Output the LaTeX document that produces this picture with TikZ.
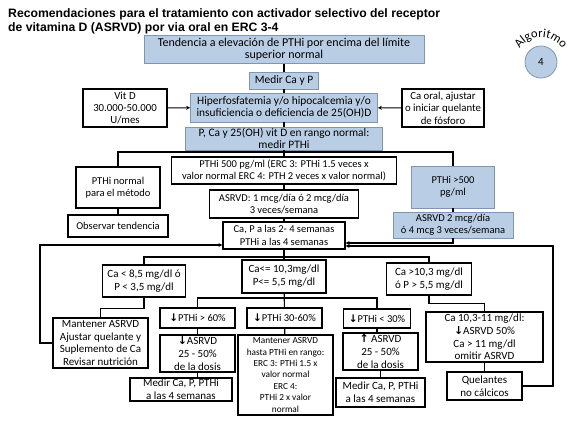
\documentclass[tikz,border=0pt]{standalone}
\usepackage{fontspec}
\setmainfont{Carlito}
\newfontfamily\titlefont{Liberation Sans}
\newfontfamily\arrowfont{DejaVu Sans}
\usetikzlibrary{arrows.meta,decorations.text}
\definecolor{boxfill}{HTML}{B9CDE5}
\definecolor{boxline}{HTML}{7F95B1}
\newcommand{\bajar}{{\arrowfont\bfseries ↓}}
\newcommand{\subir}{{\arrowfont\bfseries ↑}}

\begin{document}
\begin{tikzpicture}[
  x=1pt, y=-1pt,
  font=\fontsize{10.5}{12.3}\selectfont,
  blk/.style={draw, line width=1.1pt, align=center, inner sep=0pt, fill=white},
  azul/.style={blk, fill=boxfill, draw=boxline, line width=0.8pt},
  arriba/.style={font=\fontsize{11.4}{12.3}\selectfont},
  lado/.style={font=\fontsize{10.8}{12.3}\selectfont},
  grande/.style={font=\fontsize{11}{12.8}\selectfont},
  chico/.style={font=\fontsize{9.3}{11.4}\selectfont},
  lin/.style={line width=1.1pt},
  arr/.style={-{Stealth[length=4pt, width=4pt]}, line width=1.1pt}
]
  \useasboundingbox (0,0) rectangle (577,420);
  % Titulo y sello
  \node[anchor=north west, align=left, inner sep=0pt, font=\titlefont\bfseries\fontsize{12.2}{14}\selectfont] (titulo) at (8,8)
    {Recomendaciones para el tratamiento con activador selectivo del receptor\\de vitamina D (ASRVD) por via oral en ERC 3-4};
  \node[circle, fill=boxfill, draw=boxline, line width=0.8pt, minimum size=32pt, inner sep=0pt, font=\fontsize{11}{13}\selectfont] (sello) at (541,62) {4};
  \path[decorate, decoration={text along path, text align=center, text={|\fontsize{12.5}{14}\selectfont|Algoritmo}}]
    ([shift={(170:25pt)}]sello.center) arc[start angle=170, end angle=10, radius=25pt];

  % Fila 1: deteccion
  \node[azul, font=\fontsize{12}{12.3}\selectfont, minimum width=280pt, minimum height=27.5pt] (tend) at (284,49.5) {Tendencia a elevación de PTHi por encima del límite\\superior normal};
  \node[azul, arriba, minimum width=69pt, minimum height=17pt] (medir) at (284,80.5) {Medir Ca y P};
  \node[azul, arriba, minimum width=187pt, minimum height=29pt] (hiper) at (284,107.5) {Hiperfosfatemia y/o hipocalcemia y/o\\insuficiencia o deficiencia de 25(OH)D};
  \node[blk, lado, minimum width=84pt, minimum height=38pt] (vitd) at (125,108) {Vit D\\30.000-50.000\\U/mes};
  \node[blk, lado, minimum width=82pt, minimum height=38pt] (caoral) at (443,108) {Ca oral, ajustar\\o iniciar quelante\\de fósforo};
  \node[azul, arriba, minimum width=197pt, minimum height=23pt] (pca) at (284,138.5) {P, Ca y 25(OH) vit D en rango normal:\\medir PTHi};
  \coordinate (r1) at (284,152);

  % Fila 2: segun PTHi
  \node[blk, minimum width=84pt, minimum height=41pt] (ptnorm) at (118,187.5) {PTHi normal\\para el método};
  \node[blk, minimum width=100pt, minimum height=22pt] (observ) at (118,226) {Observar tendencia};
  \node[blk, minimum width=225pt, minimum height=27pt] (pth500) at (284,170.5) {PTHi 500 pg/ml (ERC 3: PTHi 1.5 veces x\\valor normal ERC 4: PTH 2 veces x valor normal)};
  \node[blk, minimum width=149pt, minimum height=28pt] (asrvd1) at (284,204) {ASRVD: 1 mcg/día ó 2 mcg/día\\3 veces/semana};
  \node[blk, minimum width=122pt, minimum height=27pt] (control) at (284,235.5) {Ca, P a las 2- 4 semanas\\PTHi a las 4 semanas};
  \node[azul, minimum width=83pt, minimum height=42pt] (pthalta) at (453,187) {PTHi >500\\pg/ml};
  \node[azul, minimum width=120pt, minimum height=26pt] (asrvd2) at (453,225) {ASRVD 2 mcg/día\\ó 4 mcg 3 veces/semana};
  \coordinate (r2) at (284,257);

  % Fila 3: segun Ca y P
  \node[blk, grande, minimum width=83pt, minimum height=32pt] (bajo) at (144,281) {Ca < 8,5 mg/dl ó\\P < 3,5 mg/dl};
  \node[blk, grande, minimum width=84pt, minimum height=33pt] (normal) at (284,276.5) {Ca<= 10,3mg/dl\\P<= 5,5 mg/dl};
  \node[blk, grande, minimum width=85pt, minimum height=32pt] (alto) at (429,279) {Ca >10,3 mg/dl\\ó P > 5,5 mg/dl};
  \node[blk, grande, minimum width=95pt, minimum height=50pt] (mant1) at (100.5,343) {Mantener ASRVD\\Ajustar quelante y\\Suplemento de Ca\\Revisar nutrición};
  \coordinate (r3) at (284,298);

  % Fila 4: descenso de PTHi
  \node[blk, minimum width=75pt, minimum height=20pt] (m60) at (197.5,318) {\bajar PTHi > 60\%};
  \node[blk, grande, minimum width=75pt, minimum height=37pt] (d1) at (197.5,353.5) {\bajar ASRVD\\25 - 50\%\\de la dosis};
  \node[blk, grande, minimum width=102pt, minimum height=23pt] (med1) at (181,389.5) {Medir Ca, P, PTHi\\a las 4 semanas};
  \node[blk, minimum width=75pt, minimum height=20pt] (m3060) at (284.5,318) {\bajar PTHi 30-60\%};
  \node[blk, chico, minimum width=95pt, minimum height=80pt] (mant2) at (285.5,375) {Mantener ASRVD\\hasta PTHi en rango:\\ERC 3: PTHi 1.5 x\\valor normal\\ERC 4:\\PTHi 2 x valor\\normal};
  \node[blk, minimum width=67pt, minimum height=19pt] (m30) at (377,318.5) {\bajar PTHi < 30\%};
  \node[blk, grande, minimum width=75pt, minimum height=37pt] (u1) at (380.5,351.5) {\subir\ ASRVD\\25 - 50\%\\de la dosis};
  \node[blk, grande, minimum width=89pt, minimum height=29pt] (med2) at (380.5,392.5) {Medir Ca, P, PTHi\\a las 4 semanas};
  \node[blk, grande, minimum width=117pt, minimum height=50pt] (c1011) at (484.5,337) {Ca 10,3-11 mg/dl:\\\bajar ASRVD 50\%\\Ca > 11 mg/dl\\omitir ASRVD};
  \node[blk, grande, minimum width=75pt, minimum height=28pt] (quel) at (484.5,386) {Quelantes\\no cálcicos};
  \coordinate (izq) at (40,245);
  \coordinate (der) at (553,246);

  % Columna central
  \draw[lin] (tend) -- (medir);
  \draw[lin] (medir) -- (hiper);
  \draw[lin] (hiper) -- (pca);
  \draw[arr] (vitd) -- (hiper);
  \draw[arr] (caoral) -- (hiper);
  \draw[lin] (pca) -- (pth500);
  \draw[lin] (ptnorm.north) |- (r1) -| (pthalta.north);
  \draw[lin] (ptnorm) -- (observ);
  \draw[lin] (pth500) -- (asrvd1);
  \draw[lin] (asrvd1) -- (control);
  \draw[lin] (pthalta) -- (asrvd2);
  % Retornos al control
  \draw[arr] (asrvd2.south) |- ([yshift=-7.5pt]control.east);
  \draw[arr] (quel.east) -| (der) -- ([yshift=-10.5pt]control.east);
  \draw[arr] (mant1.west) -| (izq) -- ([yshift=-9.5pt]control.west);
  % Ramas de Ca y P
  \draw[lin] (control) -- (normal);
  \draw[lin] (bajo.north) |- (r2) -| (alto.north);
  \draw[lin] (bajo.south) -- ++(0,11) -| (mant1.north);
  \draw[lin] (alto.south) -- ++(0,8) -| (c1011.north);
  \draw[lin] (c1011) -- (quel);
  % Ramas de PTHi
  \draw[lin] (normal) -- (m3060);
  \draw[lin] (m60.north) |- (r3) -| (m30.north);
  \draw[lin] (m60) -- (d1);
  \draw[lin] (d1.south) -- (d1.south |- med1.north);
  \draw[lin] (m3060) -- (mant2);
  \draw[lin] (m30.south) -- (m30.south |- u1.north);
  \draw[lin] (u1) -- (med2);
\end{tikzpicture}
\end{document}
